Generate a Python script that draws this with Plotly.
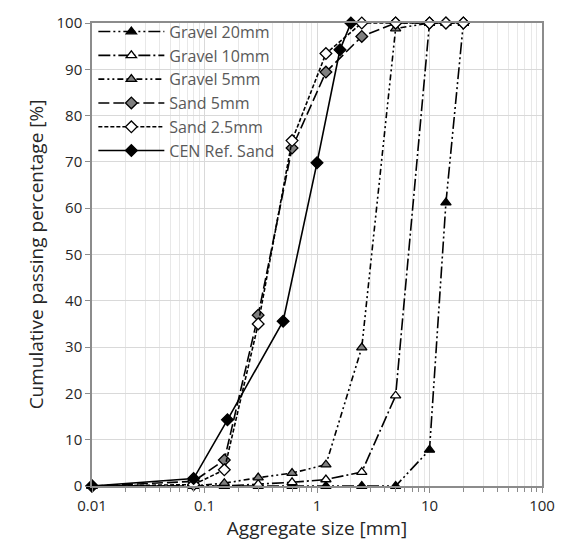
import plotly.graph_objects as go

sieve = [0.01, 0.08, 0.15, 0.3, 0.6, 1.2, 2.5, 5, 10, 14, 20]
gravel20 = [0, 0, 0, 0, 0, 0, 0, 0, 7.8, 61.2, 100]
gravel10 = [0, 0, 0, 0.4, 0.8, 1.4, 3.0, 19.5, 100, 100, 100]
gravel5 = [0, 0, 0.6, 1.8, 2.8, 4.6, 29.9, 98.8, 100, 100, 100]
sand5 = [0, 1.0, 5.6, 36.9, 73.0, 89.4, 97.1, 100, 100, 100, 100]
sand25 = [0, 0.3, 3.5, 35.0, 74.6, 93.4, 100, 100, 100, 100, 100]
cen_sieve = [0.01, 0.08, 0.16, 0.5, 1.0, 1.6, 2.0]
cen = [0, 1.6, 14.3, 35.6, 69.8, 94.2, 100]

x_ticks = [0.01, 0.1, 1, 10, 100]
x_ticktext = ["0.01", "0.1", "1", "10", "100"]
minor_ticks = [m * d for d in (0.01, 0.1, 1, 10) for m in range(2, 10)]

series = [
    ("Gravel 20mm", sieve, gravel20, "triangle-up", "black", "12px,3px,2px,3px,2px,3px"),
    ("Gravel 10mm", sieve, gravel10, "triangle-up", "white", "12px,3px,2px,3px"),
    ("Gravel 5mm", sieve, gravel5, "triangle-up", "#7f7f7f", "6px,3px,2px,3px,2px,3px"),
    ("Sand 5mm", sieve, sand5, "diamond", "#7f7f7f", "11px,4px"),
    ("Sand 2.5mm", sieve, sand25, "diamond", "white", "4px,2px"),
    ("CEN Ref. Sand", cen_sieve, cen, "diamond", "black", "solid"),
]

fig = go.Figure()
for name, xs, ys, sym, fill, dash in series:
    fig.add_trace(go.Scatter(
        x=xs, y=ys, name=name, mode="lines+markers",
        line=dict(color="black", width=1.6, dash=dash),
        marker=dict(symbol=sym, size=9, color=fill, line=dict(color="black", width=1.3)),
        cliponaxis=False,
    ))

font = "Open Sans, Lato, DejaVu Sans, sans-serif"
fig.update_layout(
    width=567, height=546,
    margin=dict(l=92, r=14, t=18, b=60),
    plot_bgcolor="white", paper_bgcolor="white",
    font=dict(family=font, size=15, color="#262626"),
    legend=dict(
        x=0.003, y=1.018, xanchor="left", yanchor="top",
        bgcolor="rgba(0,0,0,0)", font=dict(size=16, color="#595959"),
        itemwidth=66, tracegroupgap=0,
    ),
    xaxis=dict(
        type="log", range=[-2, 2],
        tickvals=x_ticks, ticktext=x_ticktext,
        ticks="outside", ticklen=5, tickcolor="#8c8c8c",
        showgrid=True, gridcolor="#d9d9d9", gridwidth=1.3,
        minor=dict(tickvals=minor_ticks, ticks="outside", ticklen=4, tickcolor="#8c8c8c",
                   showgrid=True, gridcolor="#e8e8e8", gridwidth=1),
        showline=True, linecolor="#8c8c8c", linewidth=1.5, mirror=True,
        zeroline=False,
        title=dict(text="Aggregate size [mm]", font=dict(size=19, color="#262626"), standoff=4),
        tickfont=dict(size=15, color="#262626"),
    ),
    yaxis=dict(
        range=[0, 100], dtick=10,
        ticks="outside", ticklen=5, tickcolor="#8c8c8c",
        showgrid=True, gridcolor="#d9d9d9", gridwidth=1.3,
        showline=True, linecolor="#8c8c8c", linewidth=1.5, mirror=True,
        zeroline=False,
        title=dict(text="Cumulative passing percentage [%]", font=dict(size=19, color="#262626"), standoff=8),
        tickfont=dict(size=15, color="#262626"),
    ),
)

fig.write_html("out.html")
